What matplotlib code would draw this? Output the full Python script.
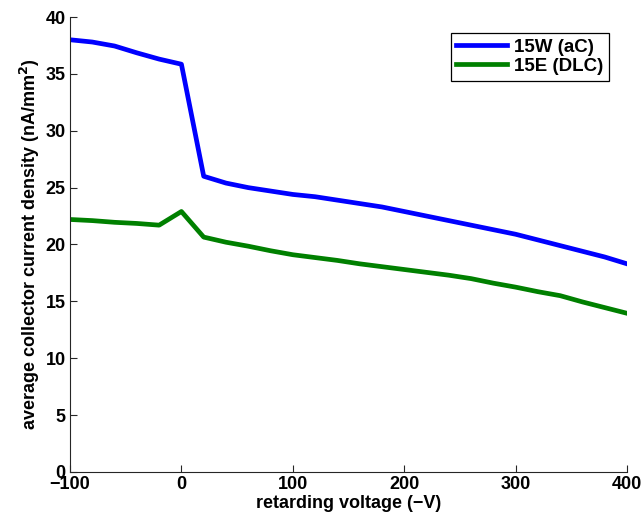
import matplotlib
matplotlib.use("Agg")
import matplotlib.pyplot as plt

# retarding voltage (-V)
voltage = [-100, -80, -60, -40, -20, 0, 20, 40, 60, 80, 100, 120, 140, 160, 180,
           200, 220, 240, 260, 280, 300, 320, 340, 360, 380, 400]
# 15W (aC)
dens_w = [38.0, 37.8, 37.45, 36.85, 36.3, 35.85, 26.0, 25.4, 25.0, 24.7, 24.4, 24.2,
          23.9, 23.6, 23.3, 22.9, 22.5, 22.1, 21.7, 21.3, 20.9, 20.4, 19.9, 19.4, 18.9, 18.3]
# 15E (DLC)
dens_e = [22.2, 22.1, 21.95, 21.85, 21.7, 22.9, 20.65, 20.2, 19.85, 19.45, 19.1, 18.85,
          18.6, 18.3, 18.05, 17.8, 17.55, 17.3, 17.0, 16.6, 16.25, 15.85, 15.5, 14.95, 14.45, 13.95]

plt.rcParams['font.family'] = ['Liberation Sans', 'DejaVu Sans']
plt.rcParams['font.weight'] = 'bold'
plt.rcParams['mathtext.default'] = 'bf'

fig = plt.figure(figsize=(6.44, 5.25), dpi=100)
ax = fig.add_axes([0.1087, 0.101, 0.865, 0.8666])

ax.plot(voltage, dens_w, color=(0, 0, 1), lw=3.4, label='15W (aC)')
ax.plot(voltage, dens_e, color=(0, 0.5, 0), lw=3.4, label='15E (DLC)')

ax.set_xlim(-100, 400)
ax.set_ylim(0, 40)
ax.set_xticks(range(-100, 401, 100))
ax.set_yticks(range(0, 41, 5))
ax.set_xticklabels(['\u2212100', '0', '100', '200', '300', '400'])
ax.tick_params(direction='in', length=5, labelsize=13, width=0.8, colors='#262626', pad=3)
ax.tick_params(labelcolor='black')
for s in ['top', 'right']:
    ax.spines[s].set_visible(False)
for s in ['left', 'bottom']:
    ax.spines[s].set_color('#262626')
    ax.spines[s].set_linewidth(0.8)

ax.set_xlabel('retarding voltage (\u2212V)', fontsize=13, fontweight='bold', labelpad=1)
ax.set_ylabel('average collector current density (nA/mm$^2$)', fontsize=13,
              fontweight='bold', labelpad=3)

leg = ax.legend(loc='upper right', bbox_to_anchor=(0.985, 0.985), fontsize=13.5,
                fancybox=False, edgecolor='black', framealpha=1,
                handlelength=2.7, borderpad=0.3, labelspacing=0.1, handletextpad=0.4)
leg.get_frame().set_linewidth(0.9)

fig.savefig('out.png', dpi=100)
